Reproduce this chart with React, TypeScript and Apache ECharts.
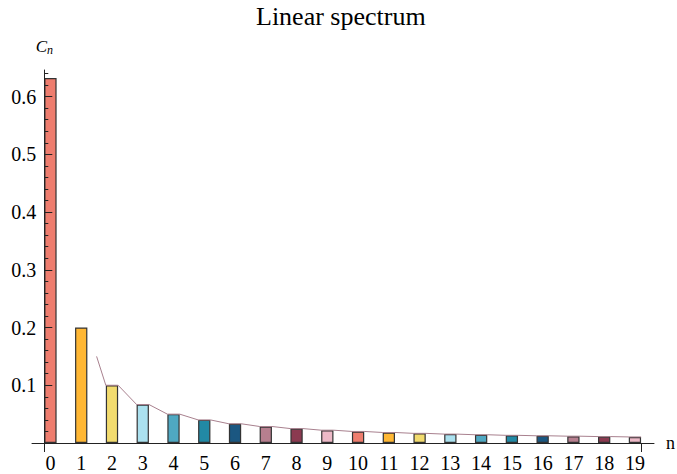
import React, { useEffect, useRef } from "react";
import * as echarts from "echarts";

const categories = [0, 1, 2, 3, 4, 5, 6, 7, 8, 9, 10, 11, 12, 13, 14, 15, 16, 17, 18, 19];
const values = [
  0.632, 0.2, 0.1, 0.0667, 0.05, 0.04, 0.0333, 0.0286, 0.025, 0.0222,
  0.02, 0.0182, 0.0167, 0.0154, 0.0143, 0.0133, 0.0125, 0.0118, 0.0111, 0.0105,
];
const palette = [
  "#EE7D6E", "#FFB734", "#F2DB6E", "#ABE1EF", "#4FA8C2",
  "#2289A5", "#1B5781", "#B77F8F", "#8B3A50", "#EDB9C7",
];
const yMajorTicks = [0.1, 0.2, 0.3, 0.4, 0.5, 0.6];
const yMinorTicks = [
  0.02, 0.04, 0.06, 0.08, 0.12, 0.14, 0.16, 0.18, 0.22, 0.24, 0.26, 0.28,
  0.32, 0.34, 0.36, 0.38, 0.42, 0.44, 0.46, 0.48, 0.52, 0.54, 0.56, 0.58,
  0.62, 0.64,
];
const BAR_HALF = 0.2;

const FONT = "Liberation Serif";

export default function App() {
  const ref = useRef<HTMLDivElement>(null);

  useEffect(() => {
    if (!ref.current) return;
    const chart = echarts.init(ref.current, undefined, { renderer: "svg" });

    const barData = categories.map((c, i) => ({
      value: [c, values[i]],
      itemStyle: { color: palette[i % palette.length] },
    }));

    const linePts: number[][] = [[(categories[1] + categories[2]) / 2, (values[1] + values[2]) / 2]];
    for (let i = 2; i < categories.length; i++) {
      linePts.push([categories[i] - BAR_HALF, values[i]]);
      linePts.push([categories[i] + BAR_HALF, values[i]]);
    }
    const firstEdge = categories[0] - BAR_HALF;
    const lastEdge = categories[categories.length - 1] + BAR_HALF;

    const yCommon = {
      type: "value" as const,
      min: 0,
      max: 0.646,
      position: "left" as const,
      offset: -12.3,
      z: 10,
      splitLine: { show: false },
    };

    chart.setOption({
      animation: false,
      backgroundColor: "#ffffff",
      textStyle: { fontFamily: FONT },
      title: {
        text: "Linear spectrum",
        left: 256,
        top: 3,
        padding: 0,
        textStyle: { fontFamily: FONT, fontSize: 26, fontWeight: "normal", color: "#000" },
      },
      grid: { left: 32, right: 23, top: 70, bottom: 31, containLabel: false, outerBoundsMode: "none" },
      xAxis: {
        type: "value",
        min: -0.6,
        max: 19.62,
        z: 10,
        name: "n",
        nameLocation: "end",
        nameGap: 12,
        nameTextStyle: { fontFamily: FONT, fontSize: 18, color: "#000", verticalAlign: "middle" },
        axisLine: { show: true, onZero: false, lineStyle: { color: "#222", width: 1 } },
        axisTick: {
          show: true,
          customValues: [firstEdge, lastEdge],
          length: 9,
          inside: false,
          lineStyle: { color: "#222" },
        },
        axisLabel: {
          show: true,
          customValues: categories,
          margin: 10,
          fontFamily: FONT,
          fontSize: 20,
          color: "#000",
          formatter: (v: number) => String(Math.round(v)),
        },
        splitLine: { show: false },
      },
      yAxis: [
        {
          ...yCommon,
          name: "{c|C}{s|n}",
          nameLocation: "end",
          nameGap: 14,
          nameTextStyle: {
            fontFamily: FONT,
            rich: {
              c: { fontFamily: FONT, fontSize: 17, fontStyle: "italic", color: "#000" },
              s: { fontFamily: FONT, fontSize: 12, fontStyle: "italic", color: "#000", padding: [8, 0, 0, 0] },
            },
          },
          axisLine: { show: true, onZero: false, lineStyle: { color: "#222", width: 1 } },
          axisTick: { show: true, inside: true, length: 8, customValues: yMajorTicks, lineStyle: { color: "#222" } },
          axisLabel: {
            show: true,
            customValues: yMajorTicks,
            margin: 8,
            fontFamily: FONT,
            fontSize: 20,
            color: "#000",
            formatter: (v: number) => v.toFixed(1),
          },
        },
        {
          ...yCommon,
          axisLine: { show: false, onZero: false },
          axisTick: { show: true, inside: true, length: 4, customValues: yMinorTicks, lineStyle: { color: "#222" } },
          axisLabel: { show: false },
        },
      ],
      series: [
        {
          type: "bar",
          data: barData,
          barWidth: 12.3,
          xAxisIndex: 0,
          yAxisIndex: 0,
          itemStyle: { borderColor: "#333333", borderWidth: 1.2 },
          z: 2,
        },
        {
          type: "line",
          data: linePts,
          xAxisIndex: 0,
          yAxisIndex: 0,
          showSymbol: false,
          symbol: "none",
          lineStyle: { color: "#A8808E", width: 1 },
          z: 3,
        },
      ],
    });

    return () => chart.dispose();
  }, []);

  return (
    <div
      ref={ref}
      style={{ position: "fixed", left: 0, top: 0, width: 677, height: 474, overflow: "hidden" }}
    />
  );
}
